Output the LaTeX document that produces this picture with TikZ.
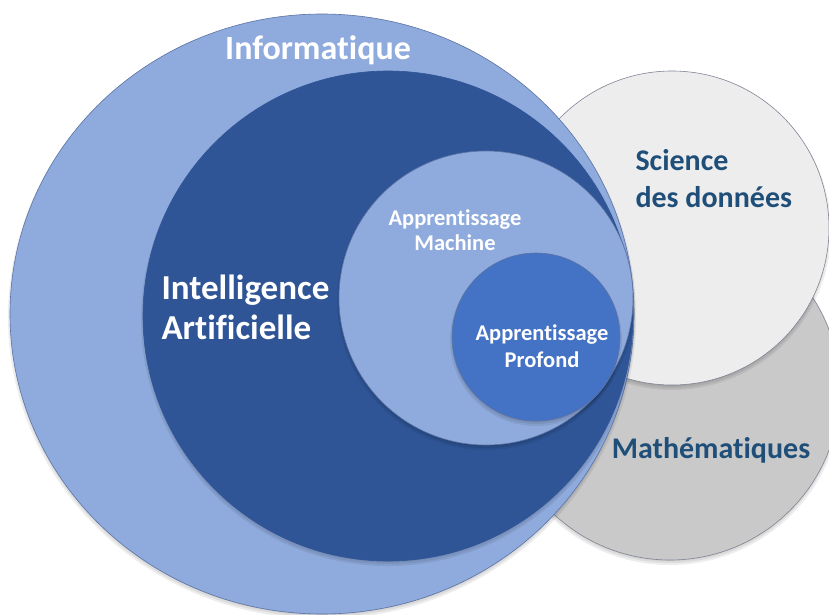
\documentclass[tikz,border=0pt]{standalone}
\usepackage{fontspec}
\setmainfont{Carlito}[Ligatures={NoCommon}]
\definecolor{infoblue}{HTML}{8FAADC}
\definecolor{infoedge}{HTML}{5B73A3}
\definecolor{iablue}{HTML}{2F5597}
\definecolor{dlblue}{HTML}{4472C4}
\definecolor{sdgray}{HTML}{EDEDED}
\definecolor{mathgray}{HTML}{C9C9C9}
\definecolor{grayedge}{HTML}{7F8595}
\definecolor{txtblue}{HTML}{1F4E79}

\begin{document}
\begin{tikzpicture}[x=1pt,y=-1pt]
        \useasboundingbox (0,0) rectangle (829,615);
        \clip (0,0) rectangle (829,615);
        % circles from back to front, each with a soft shadow
        \foreach \cx/\cy/\rx/\ry/\col/\edge in {670/390/170/170/mathgray/grayedge,
            672/228/157/157/sdgray/grayedge, 322/314/312/300/infoblue/infoedge,
            388/316/245/245/iablue/iablue, 486/298/147/147/infoblue/infoedge,
            536/337/84/84/dlblue/infoedge} {
            \foreach \d in {0,2,4}
                \fill[black,opacity=.07] (\cx,\cy+3) ellipse [x radius=\rx+\d-2, y radius=\ry+\d-2];
            \fill[\col] (\cx,\cy) ellipse [x radius=\rx, y radius=\ry];
            \draw[\edge,line width=.6pt] (\cx,\cy) ellipse [x radius=\rx, y radius=\ry];
        }

        \node[white,anchor=base,font=\fontsize{34}{40}\selectfont\bfseries] (info) at (318,60) {Informatique};
        \node[white,anchor=base west,font=\fontsize{35}{40}\selectfont\bfseries] (ia1) at (158,299) {Intelligence};
        \node[white,anchor=base west,font=\fontsize{35}{40}\selectfont\bfseries] (ia2) at (158,339) {Artificielle};
        \node[white,anchor=base,font=\fontsize{22.5}{26}\selectfont\bfseries] (ml1) at (455,225) {Apprentissage};
        \node[white,anchor=base,font=\fontsize{22.5}{26}\selectfont\bfseries] (ml2) at (455,250) {Machine};
        \node[white,anchor=base,font=\fontsize{22.5}{26}\selectfont\bfseries] (dl1) at (542,340) {Apprentissage};
        \node[white,anchor=base,font=\fontsize{22.5}{26}\selectfont\bfseries] (dl2) at (542,367) {Profond};
        \node[txtblue,anchor=base west,font=\fontsize{30}{36}\selectfont\bfseries] (sd1) at (632,170) {Science};
        \node[txtblue,anchor=base west,font=\fontsize{30}{36}\selectfont\bfseries] (sd2) at (632,207) {des données};
        \node[txtblue,anchor=base,font=\fontsize{30}{36}\selectfont\bfseries] (math) at (711,458) {Mathématiques};
    \end{tikzpicture}
\end{document}
